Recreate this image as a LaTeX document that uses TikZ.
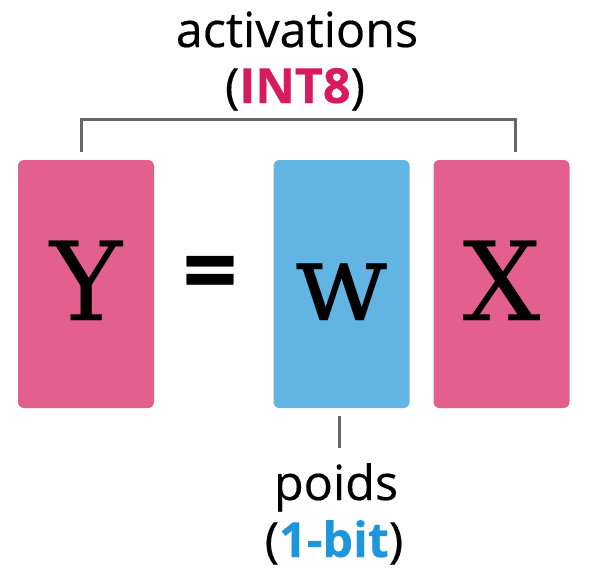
\documentclass[tikz,border=0pt]{standalone}
\usepackage{fontspec}
\setmainfont{Open Sans}[FakeBold=0.4]
\newfontfamily\letterfont{DejaVu Serif}[FakeBold=0.2]
\definecolor{pinkbox}{RGB}{227,96,142}
\definecolor{bluebox}{RGB}{98,180,227}
\definecolor{crim}{RGB}{216,27,96}
\definecolor{bitblue}{RGB}{30,150,220}
\definecolor{linegray}{RGB}{102,102,102}
\begin{document}
\begin{tikzpicture}[x=1pt,y=1pt,
  mbox/.style={rectangle,rounded corners=6pt,minimum width=136pt,minimum height=248pt,inner sep=0pt,
    text height=72pt,text depth=0pt,font=\letterfont\fontsize{109}{109}\selectfont},
  lbl/.style={anchor=base,inner sep=0pt,font=\fontsize{48.5}{56}\selectfont},
  conn/.style={draw=linegray,line width=3pt}]
\useasboundingbox (0,0) rectangle (601,-570);
\node[mbox,fill=pinkbox] (Y) at (86,-284) {Y};
\node[mbox,fill=bluebox] (W) at (341.5,-284) {w};
\node[mbox,fill=pinkbox] (X) at (501.5,-284) {X};
\node[anchor=base,inner sep=0pt,font=\bfseries\fontsize{96}{96}\selectfont] (eq) at (210,-304) {=};
\node[lbl] (act) at (297,-47) {activations};
\node[lbl] (int) at (295,-103) {(\textcolor{crim}{\bfseries INT8})};
\node[lbl] (poids) at (336,-500) {poids};
\node[lbl] (bit) at (334,-557) {(\textcolor{bitblue}{\bfseries 1-bit})};
\draw[conn] ([shift={(-4.5pt,8pt)}]Y.north) -- ++(0,32pt) -| ([shift={(13.5pt,8pt)}]X.north);
\coordinate (wl) at ([shift={(-2.5pt,-40pt)}]W.south);
\draw[conn] ([shift={(-2.5pt,-8pt)}]W.south) -- (wl);
\end{tikzpicture}
\end{document}
